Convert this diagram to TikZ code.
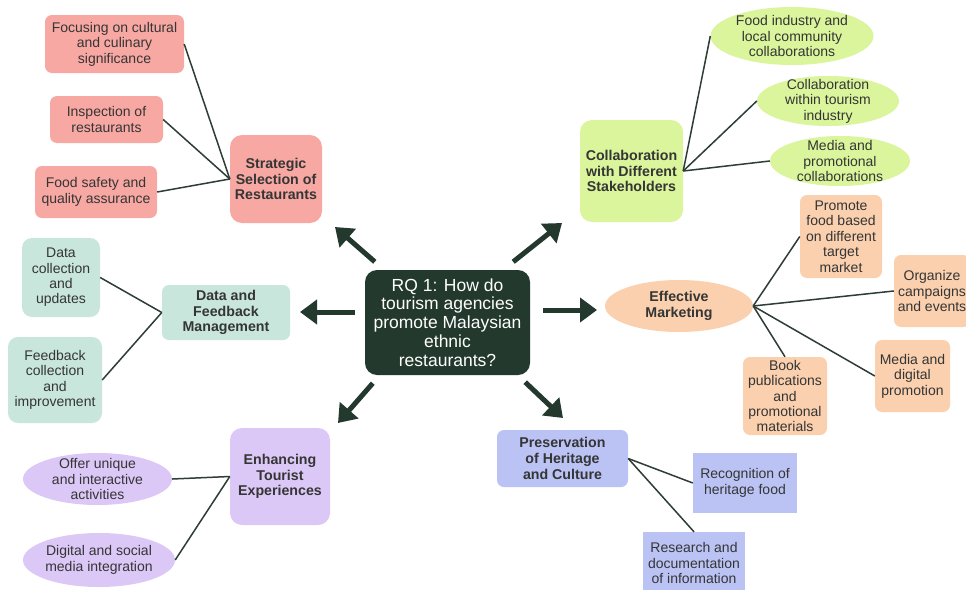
\documentclass[tikz,border=0pt]{standalone}
\usepackage{fontspec}
\setmainfont{Liberation Sans}
\usetikzlibrary{shapes.geometric,arrows.meta}
\definecolor{dk}{HTML}{24392E}
\definecolor{txt}{HTML}{353535}
\definecolor{lnc}{HTML}{2E3D35}
\definecolor{cpink}{HTML}{F7A8A2}
\definecolor{cgreen}{HTML}{DAF59B}
\definecolor{cpeach}{HTML}{FAD0AE}
\definecolor{cteal}{HTML}{C8E6DC}
\definecolor{clav}{HTML}{DCC8F7}
\definecolor{cblue}{HTML}{BAC3F4}
\newcommand{\subf}{\fontsize{14}{15.4}\selectfont}
\newcommand{\headf}{\fontsize{14.2}{15.6}\selectfont\bfseries}
\newcommand{\mainfnt}{\fontsize{17.5}{18.8}\selectfont}
\begin{document}
\begin{tikzpicture}[x=1pt,y=-1pt,
  base/.style={align=center, text=txt, inner sep=1pt, font=\subf},
  rbox/.style 2 args={base, rectangle, rounded corners=7pt, minimum width=#1, minimum height=#2},
  sbox/.style 2 args={base, rectangle, minimum width=#1, minimum height=#2},
  ell/.style 2 args={base, ellipse, inner xsep=0pt, inner ysep=-6pt, minimum width=#1, minimum height=#2},
  hd/.style={font=\headf},
  link/.style={draw=lnc, line width=1.5pt},
  bigarr/.style={draw=dk, line width=5pt, -{Triangle[width=24pt,length=17pt]}}]
\clip (0,0) rectangle (966,589);
\fill[white] (0,0) rectangle (966,589);

% central node
\node[rbox={165}{105}, fill=dk, text=white, font=\mainfnt, rounded corners=12pt] (c) at (447.5,322.5)
  {RQ 1: How do\\tourism agencies\\promote Malaysian\\ethnic\\restaurants?};

% Strategic selection
\node[rbox={92}{88}, fill=cpink, hd, rounded corners=12pt] (s) at (276,179) {Strategic\\Selection of\\Restaurants};
\node[rbox={139}{58}, fill=cpink] (s1) at (114.5,44) {Focusing on cultural\\and culinary\\significance};
\node[rbox={113}{47}, fill=cpink] (s2) at (106.5,119.5) {Inspection of\\restaurants};
\node[rbox={122}{52}, fill=cpink] (s3) at (96,192) {Food safety and\\quality assurance};

% Collaboration
\node[rbox={103}{102}, fill=cgreen, hd, rounded corners=12pt] (k) at (631.5,171) {Collaboration\\with Different\\Stakeholders};
\node[ell={163}{58}, fill=cgreen] (k1) at (792,36) {Food industry and\\local community\\collaborations};
\node[ell={142}{50}, fill=cgreen] (k2) at (828,101) {Collaboration\\within tourism\\industry};
\node[ell={140}{50}, fill=cgreen] (k3) at (840,161) {Media and\\promotional\\collaborations};

% Effective marketing
\node[ell={148}{52}, fill=cpeach, hd] (m) at (679,306) {Effective\\Marketing};
\node[rbox={82}{83}, fill=cpeach] (m1) at (841,236.5) {Promote\\food based\\on different\\target\\market};
\node[rbox={76}{72}, fill=cpeach] (m2) at (932,291) {Organize\\campaigns\\and events};
\node[rbox={75}{72}, fill=cpeach] (m3) at (912.5,376) {Media and\\digital\\promotion};
\node[rbox={84}{78}, fill=cpeach] (m4) at (785,396) {Book\\publications\\and\\promotional\\materials};

% Data and feedback
\node[rbox={128}{55}, fill=cteal, hd] (d) at (226,312.5) {Data and\\Feedback\\Management};
\node[rbox={78}{79}, fill=cteal, rounded corners=10pt] (d1) at (61,277.5) {Data\\collection\\and\\updates};
\node[rbox={94}{86}, fill=cteal, rounded corners=10pt] (d2) at (55,380) {Feedback\\collection\\and\\improvement};

% Enhancing tourist experiences
\node[rbox={100}{97}, fill=clav, hd, rounded corners=12pt] (e) at (280,476.5) {Enhancing\\Tourist\\Experiences};
\node[ell={149}{52}, fill=clav] (e1) at (97.5,479) {Offer unique\\and interactive\\activities};
\node[ell={152}{54}, fill=clav] (e2) at (99,560) {Digital and social\\media integration};

% Preservation
\node[rbox={131}{57}, fill=cblue, hd] (p) at (562.5,458.5) {Preservation\\of Heritage\\and Culture};
\node[sbox={104}{60}, fill=cblue] (p1) at (745,483) {Recognition of\\heritage food};
\node[sbox={102}{62}, fill=cblue] (p2) at (694,563) {Research and\\documentation\\of information};

% connectors
\draw[link] (s1.east) -- (s.west);
\draw[link] (s2.east) -- (s.west);
\draw[link] (s3.east) -- (s.west);
\draw[link] (k.east) -- (k1.west);
\draw[link] (k.east) -- (k2.west);
\draw[link] (k.east) -- (k3.west);
\draw[link] (m.east) -- (m1.west);
\draw[link] (m.east) -- (m2.west);
\draw[link] (m.east) -- (m3.west);
\draw[link] (m.east) -- (m4.north);
\draw[link] (d1.east) -- (d.west);
\draw[link] (d2.east) -- (d.west);
\draw[link] (e1.east) -- (e.west);
\draw[link] (e2.east) -- (e.west);
\draw[link] (p.east) -- (p1.west);
\draw[link] (p.east) -- (p2.north);

% big arrows
\coordinate (tA) at (335,227);
\coordinate (tB) at (562,223);
\coordinate (tL) at (300,312);
\coordinate (tR) at (597,310);
\coordinate (tDL) at (338,423);
\coordinate (tDR) at (563,418);
\draw[bigarr] ([shift={(10,-8)}]c.north west) -- (tA);
\draw[bigarr] ([shift={(-17,-8)}]c.north east) -- (tB);
\draw[bigarr] ([shift={(-10,-10.5)}]c.west) -- (tL);
\draw[bigarr] ([shift={(13,-12.5)}]c.east) -- (tR);
\draw[bigarr] ([shift={(8,8)}]c.south west) -- (tDL);
\draw[bigarr] ([shift={(-5,7)}]c.south east) -- (tDR);
\end{tikzpicture}
\end{document}
